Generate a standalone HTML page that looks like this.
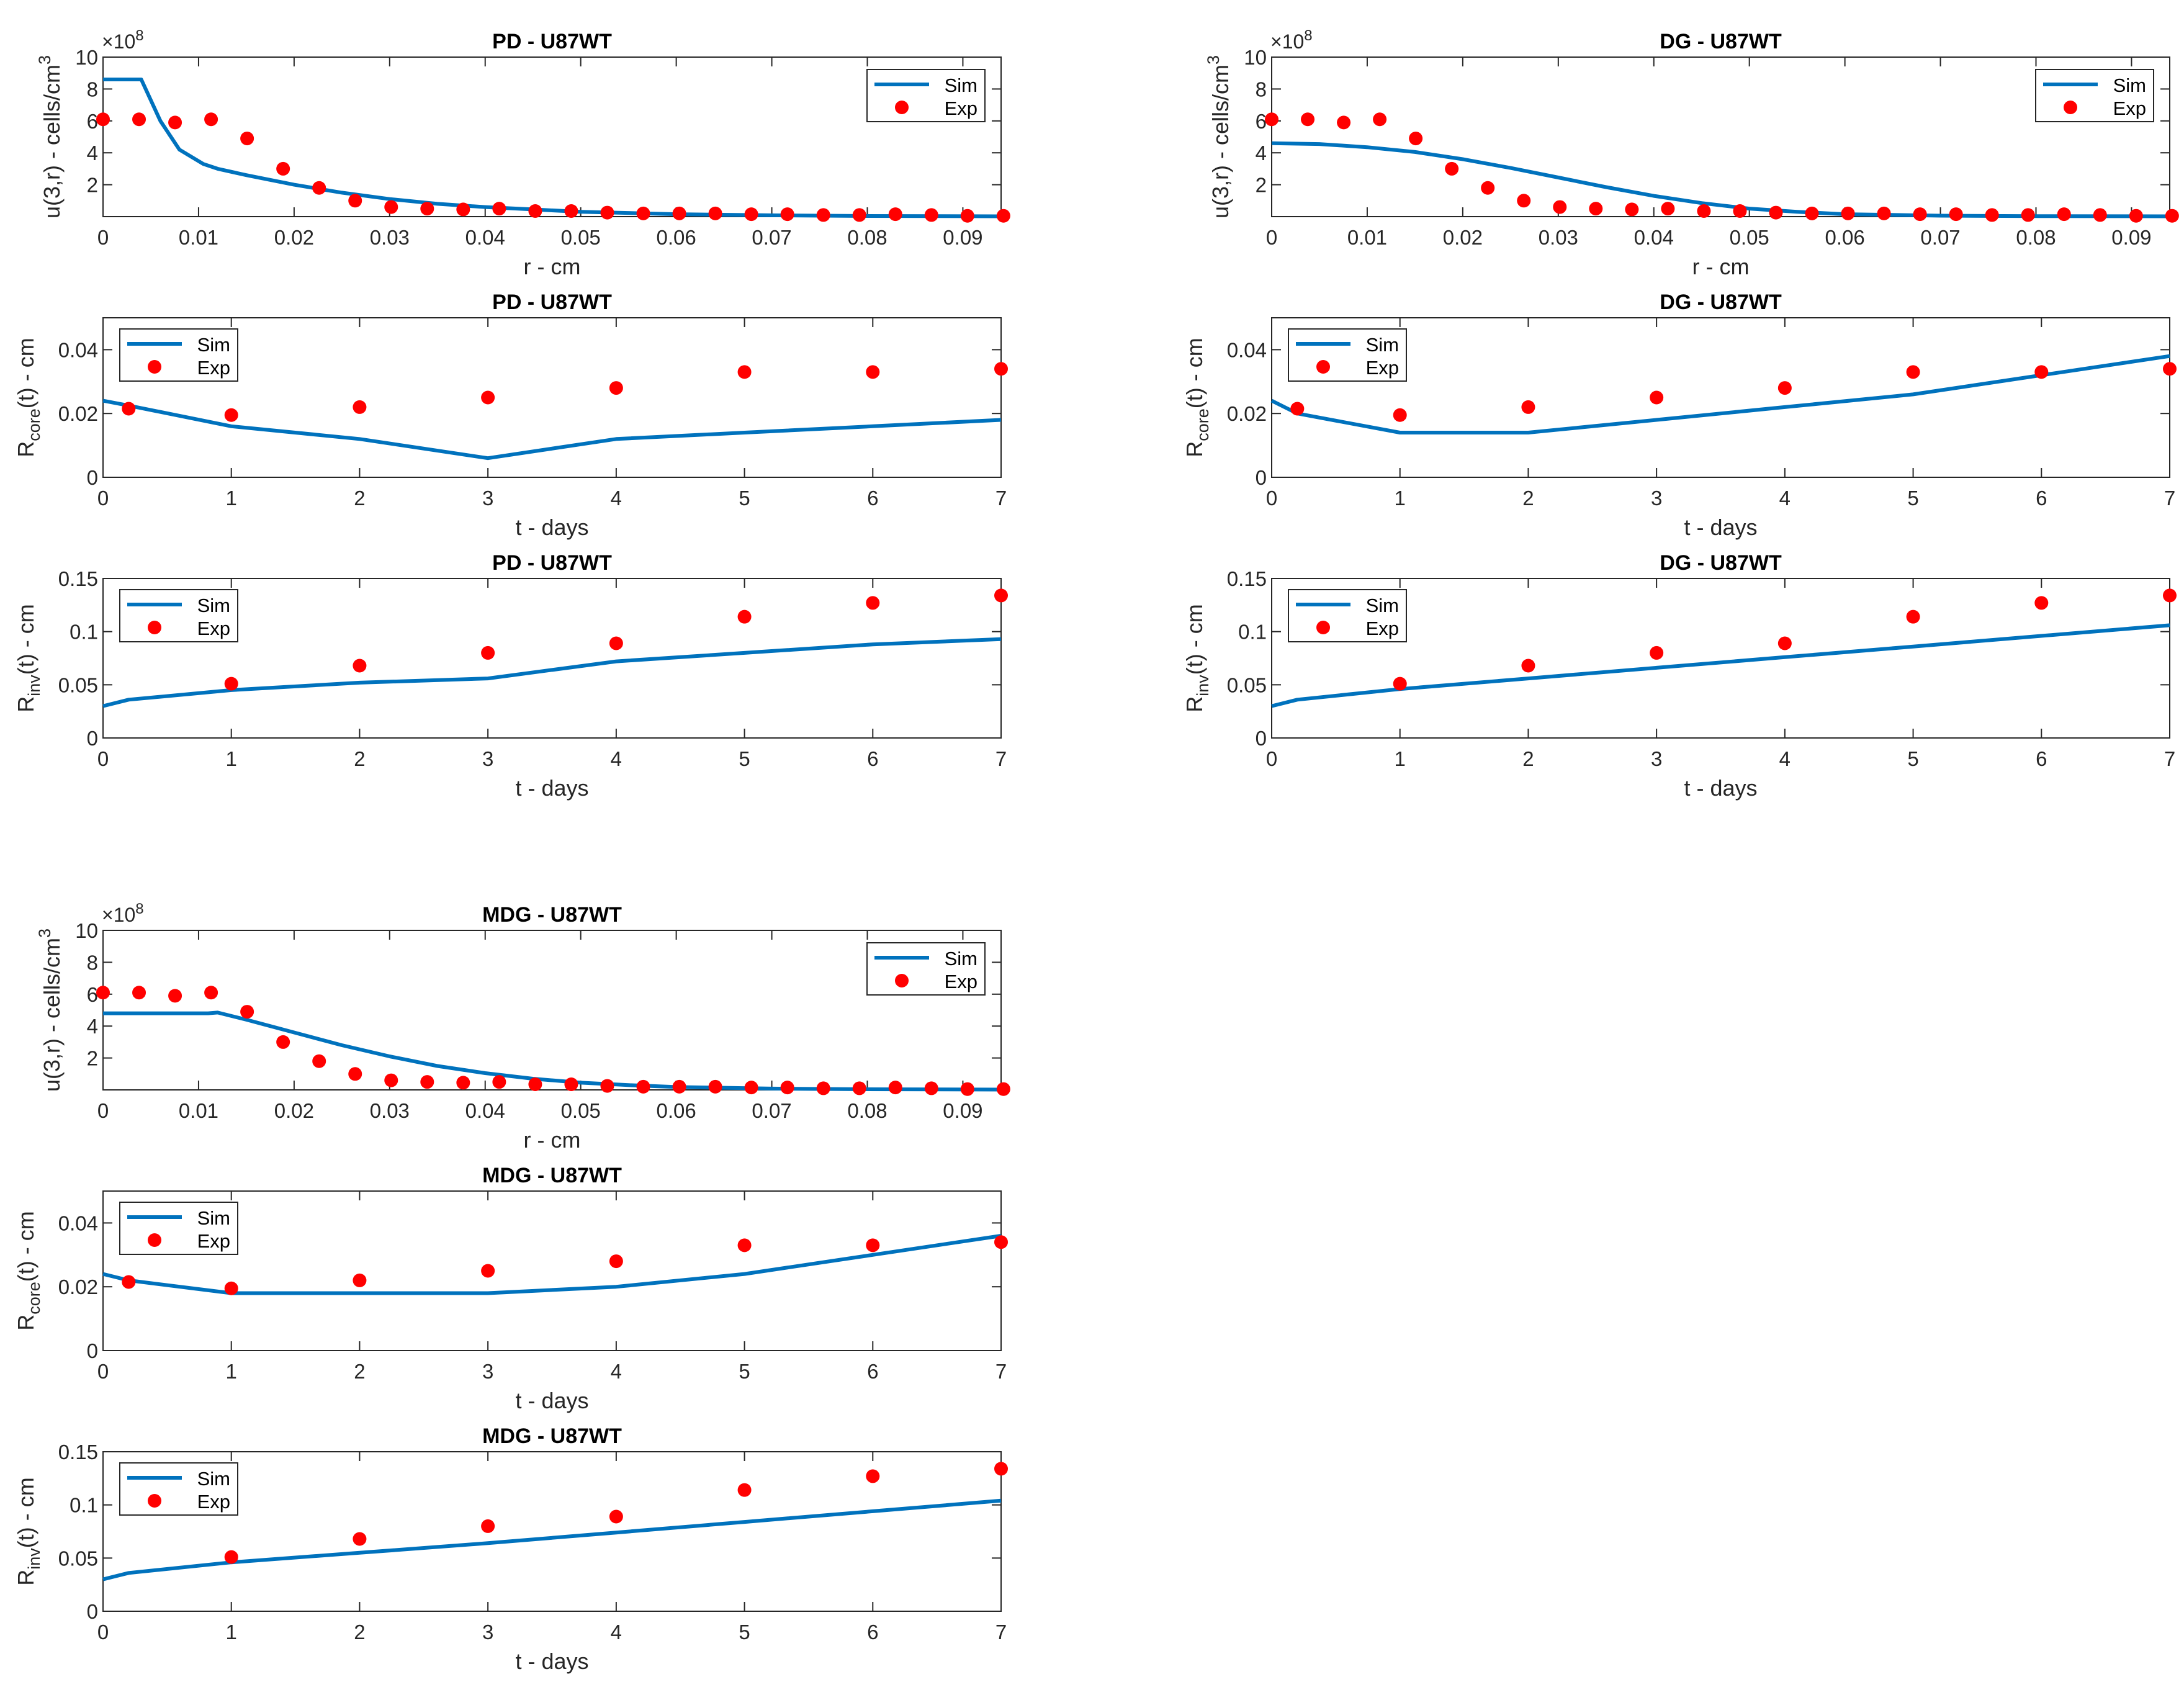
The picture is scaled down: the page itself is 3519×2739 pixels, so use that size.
<!DOCTYPE html>
<html><head><meta charset="utf-8">
<style>
html,body{margin:0;padding:0;background:#fff;}
svg{display:block;font-family:"Liberation Sans",Arial,sans-serif;}
</style></head>
<body>
<svg id="fig" xmlns="http://www.w3.org/2000/svg" width="3519" height="2739" viewBox="0 0 3519 2739"></svg>
<script>
// ---- data ----
const expR = [0,0.00377,0.00754,0.01131,0.01508,0.01885,0.02262,0.02639,0.03016,0.03393,0.0377,0.04147,0.04524,0.04901,0.05278,0.05655,0.06032,0.06409,0.06786,0.07163,0.0754,0.07917,0.08294,0.08671,0.09048,0.09425];
const expU = [6.1,6.1,5.9,6.1,4.9,3.0,1.8,1.0,0.6,0.5,0.45,0.5,0.35,0.35,0.25,0.2,0.2,0.2,0.15,0.15,0.1,0.1,0.15,0.1,0.05,0.05];
const pdSimR = [0,0.004,0.006,0.008,0.0105,0.012,0.015,0.02,0.025,0.03,0.035,0.04,0.045,0.05,0.06,0.07,0.08,0.094];
const pdSimU = [8.6,8.6,6.0,4.2,3.3,3.0,2.6,2.0,1.5,1.1,0.8,0.6,0.45,0.3,0.15,0.08,0.04,0.02];
const dgSimR = [0,0.005,0.01,0.015,0.02,0.025,0.03,0.035,0.04,0.045,0.05,0.055,0.06,0.07,0.08,0.094];
const dgSimU = [4.6,4.55,4.35,4.05,3.6,3.05,2.45,1.85,1.3,0.85,0.5,0.3,0.15,0.06,0.03,0.02];
const mdgSimR = [0,0.011,0.012,0.015,0.02,0.025,0.03,0.035,0.04,0.045,0.05,0.055,0.06,0.07,0.08,0.094];
const mdgSimU = [4.8,4.8,4.85,4.4,3.6,2.8,2.1,1.5,1.05,0.7,0.45,0.3,0.18,0.08,0.04,0.02];

const expCoreT = [0.2,1,2,3,4,5,6,7];
const expCore = [0.0215,0.0195,0.022,0.025,0.028,0.033,0.033,0.034];
const simT = [0,0.2,1,2,3,4,5,6,7];
const pdCore = [0.024,0.0225,0.016,0.012,0.006,0.012,0.014,0.016,0.018];
const dgCore = [0.024,0.020,0.014,0.014,0.018,0.022,0.026,0.032,0.038];
const mdgCore = [0.024,0.022,0.018,0.018,0.018,0.020,0.024,0.030,0.036];

const expInvT = [1,2,3,4,5,6,7];
const expInv = [0.051,0.068,0.080,0.089,0.114,0.127,0.134];
const pdInv = [0.030,0.036,0.045,0.052,0.056,0.072,0.080,0.088,0.093];
const dgInv = [0.030,0.036,0.046,0.056,0.066,0.076,0.086,0.096,0.106];
const mdgInv = [0.030,0.036,0.046,0.055,0.064,0.074,0.084,0.094,0.104];

const rTicks = [0,0.01,0.02,0.03,0.04,0.05,0.06,0.07,0.08,0.09];
const rTickLabels = ["0","0.01","0.02","0.03","0.04","0.05","0.06","0.07","0.08","0.09"];
const uTicks = [2,4,6,8,10];
const uTickLabels = ["2","4","6","8","10"];
const tTicks = [0,1,2,3,4,5,6,7];
const tTickLabels = ["0","1","2","3","4","5","6","7"];
const coreTicks = [0,0.02,0.04];
const coreTickLabels = ["0","0.02","0.04"];
const invTicks = [0,0.05,0.1,0.15];
const invTickLabels = ["0","0.05","0.1","0.15"];

// ---- layout ----
const NS="http://www.w3.org/2000/svg";
const svg=document.getElementById('fig');
const W=1447, H=257;
function mk(tag,attrs,parent){const e=document.createElementNS(NS,tag);for(const k in attrs)e.setAttribute(k,attrs[k]);(parent||svg).appendChild(e);return e;}

const panels=[
 {id:'pd-u',x:166,y:92,type:'u',title:'PD - U87WT',sx:pdSimR,sy:pdSimU},
 {id:'pd-core',x:166,y:512,type:'core',title:'PD - U87WT',sy:pdCore},
 {id:'pd-inv',x:166,y:932,type:'inv',title:'PD - U87WT',sy:pdInv},
 {id:'dg-u',x:2049,y:92,type:'u',title:'DG - U87WT',sx:dgSimR,sy:dgSimU},
 {id:'dg-core',x:2049,y:512,type:'core',title:'DG - U87WT',sy:dgCore},
 {id:'dg-inv',x:2049,y:932,type:'inv',title:'DG - U87WT',sy:dgInv},
 {id:'mdg-u',x:166,y:1499,type:'u',title:'MDG - U87WT',sx:mdgSimR,sy:mdgSimU},
 {id:'mdg-core',x:166,y:1919,type:'core',title:'MDG - U87WT',sy:mdgCore},
 {id:'mdg-inv',x:166,y:2339,type:'inv',title:'MDG - U87WT',sy:mdgInv}
];

panels.forEach(p=>{
  const g=mk('g',{});
  
  
  let xmin=0,xmax,ymin=0,ymax,xt,xtl,yt,ytl,xs,ys,ex,ey,xlabel;
  if(p.type==='u'){xmax=0.094;ymax=10;xt=rTicks;xtl=rTickLabels;yt=uTicks;ytl=uTickLabels;xs=p.sx;ys=p.sy;ex=expR;ey=expU;xlabel='r - cm';}
  else if(p.type==='core'){xmax=7;ymax=0.05;xt=tTicks;xtl=tTickLabels;yt=coreTicks;ytl=coreTickLabels;xs=simT;ys=p.sy;ex=expCoreT;ey=expCore;xlabel='t - days';}
  else {xmax=7;ymax=0.15;xt=tTicks;xtl=tTickLabels;yt=invTicks;ytl=invTickLabels;xs=simT;ys=p.sy;ex=expInvT;ey=expInv;xlabel='t - days';}
  const X=v=>p.x+(v-xmin)/(xmax-xmin)*W;
  const Y=v=>p.y+H-(v-ymin)/(ymax-ymin)*H;
  const tl=15;
  xt.forEach((v,i)=>{
    const x=X(v);
    const t1=mk('line',{x1:x,x2:x,y1:p.y+H,y2:p.y+H-tl,stroke:'#262626','stroke-width':2},g);
    
    
    mk('line',{x1:x,x2:x,y1:p.y,y2:p.y+tl,stroke:'#262626','stroke-width':2},g);
    const t=mk('text',{x:x,y:p.y+H+45,'font-size':33,fill:'#262626','text-anchor':'middle'},g);
    t.textContent=xtl[i];
    
    
  });
  yt.forEach((v,i)=>{
    const y=Y(v);
    mk('line',{x1:p.x,x2:p.x+tl,y1:y,y2:y,stroke:'#262626','stroke-width':2},g);
    mk('line',{x1:p.x+W,x2:p.x+W-tl,y1:y,y2:y,stroke:'#262626','stroke-width':2},g);
    const t=mk('text',{x:p.x-8,y:y+12,'font-size':33,fill:'#262626','text-anchor':'end'},g);
    t.textContent=ytl[i];
    
    
  });
  const fr=mk('rect',{x:p.x,y:p.y,width:W,height:H,fill:'none',stroke:'#262626','stroke-width':2},g);
  
  
  const pts=xs.map((v,i)=>X(v).toFixed(1)+','+Y(ys[i]).toFixed(1)).join(' ');
  const pl=mk('polyline',{points:pts,fill:'none',stroke:'#0072BD','stroke-width':6,'stroke-linejoin':'round'},g);
  
  
  ex.forEach((v,i)=>{
    const c=mk('circle',{cx:X(v),cy:Y(ey[i]),r:11,fill:'#FF0000'},g);
    
    
  });
  const tt=mk('text',{x:p.x+W/2,y:p.y-14,'font-size':34,'font-weight':'bold',fill:'#000','text-anchor':'middle'},g);
  tt.textContent=p.title;
  
  
  const xl=mk('text',{x:p.x+W/2,y:p.y+H+93,'font-size':36,fill:'#262626','text-anchor':'middle'},g);
  xl.textContent=xlabel;
  
  
  const cy=p.y+H/2;
  let yx=(p.type==='u')?p.x-70:p.x-112;
  const yl=mk('text',{x:yx,y:cy,'font-size':36,fill:'#262626','text-anchor':'middle',transform:`rotate(-90 ${yx} ${cy})`},g);
  
  
  if(p.type==='u'){
    yl.innerHTML='u(3,r) - cells/cm<tspan dy="-15" font-size="27">3</tspan>';
    const m=mk('text',{x:p.x-2,y:p.y-14,'font-size':32,fill:'#262626'},g);
    m.innerHTML='×10<tspan dy="-13" font-size="24">8</tspan>';
    
    
  } else {
    const sub=p.type==='core'?'core':'inv';
    yl.innerHTML=`R<tspan dy="10" font-size="27">${sub}</tspan><tspan dy="-10">(t) - cm</tspan>`;
  }
  const lw=190,lh=84;
  const lx=(p.type==='u')?p.x+W-26-lw:p.x+27;
  const ly=(p.type==='u')?p.y+20:p.y+18;
  const lg=mk('g',{},g);
  
  
  mk('rect',{x:lx,y:ly,width:lw,height:lh,fill:'#fff',stroke:'#262626','stroke-width':2},lg);
  mk('line',{x1:lx+12,x2:lx+100,y1:ly+24,y2:ly+24,stroke:'#0072BD','stroke-width':6},lg);
  mk('circle',{cx:lx+56,cy:ly+61,r:11,fill:'#FF0000'},lg);
  const s1=mk('text',{x:lx+lw-12,y:ly+36,'font-size':31,fill:'#000','text-anchor':'end'},lg);
  s1.textContent='Sim';
  
  
  const s2=mk('text',{x:lx+lw-12,y:ly+73,'font-size':31,fill:'#000','text-anchor':'end'},lg);
  s2.textContent='Exp';
  
  
});
</script>
</body></html>
